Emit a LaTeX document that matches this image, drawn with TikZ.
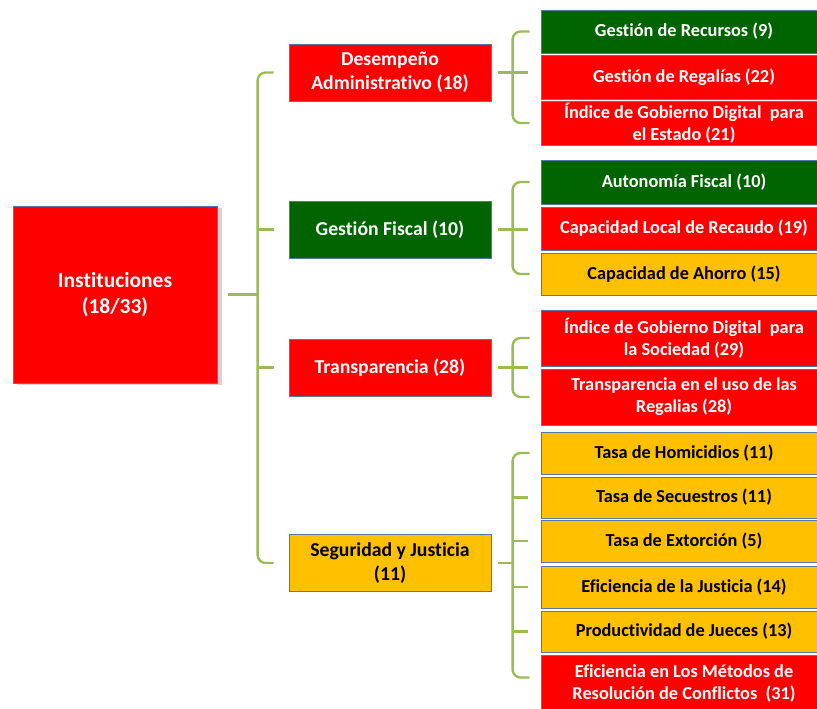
\documentclass[tikz,border=0pt]{standalone}
\usepackage{fontspec}
\setmainfont[Ligatures=NoCommon]{Carlito}
\usetikzlibrary{shadows}

\definecolor{boxred}{HTML}{FF0000}
\definecolor{boxgreen}{HTML}{006400}
\definecolor{boxyellow}{HTML}{FFC000}
\definecolor{boxedge}{HTML}{5577AA}
\definecolor{bracecol}{HTML}{9BBB59}

\begin{document}
\begin{tikzpicture}[x=1pt,y=-1pt]
		\tikzset{box/.style={shape = rectangle, draw = boxedge, line width = 0.8pt, align = center,
				font = \bfseries\fontsize{18.3}{22}\selectfont, inner sep = 2pt}}
		\tikzset{red box/.style={box, fill = boxred, text = white}}
		\tikzset{green box/.style={box, fill = boxgreen, text = white}}
		\tikzset{yellow box/.style={box, fill = boxyellow, text = black}}
		\tikzset{mid/.style={minimum width = 202pt, minimum height = 57pt,
				font = \bfseries\fontsize{19.7}{24}\selectfont}}
		\tikzset{leaf/.style={minimum width = 286pt}}
		\tikzset{bracket/.style={draw = bracecol, line width = 2.4pt, rounded corners = 8pt}}
		\useasboundingbox (0,0) rectangle (817,709);
		%root
		\node[red box, minimum width = 204pt, minimum height = 177pt,
			font = \bfseries\fontsize{21.5}{26}\selectfont,
			drop shadow = {shadow xshift = 5pt, shadow yshift = -2pt, opacity = 0.35}]
			(inst) at (115, 294.5) {Instituciones\\(18/33)};
		%middle level
		\node[red box, mid] (desemp) at (390, 72.5) {Desempeño\\Administrativo (18)};
		\node[green box, mid] (fiscal) at (390, 229.5) {Gestión Fiscal (10)};
		\node[red box, mid] (transp) at (390, 367.5) {Transparencia (28)};
		\node[yellow box, mid] (segur) at (390, 563) {Seguridad y Justicia\\(11)};
		%leaves
		\node[green box, leaf, minimum height = 43pt] (recur) at (684, 31.5) {Gestión de Recursos (9)};
		\node[red box, leaf, minimum height = 44pt] (regal) at (684, 77) {Gestión de Regalías (22)};
		\node[red box, leaf, minimum height = 44pt] (gdest) at (684, 123) {Índice de Gobierno Digital\ \ para\\el Estado (21)};
		\node[green box, leaf, minimum height = 44pt] (autfis) at (684, 182) {Autonomía Fiscal (10)};
		\node[red box, leaf, minimum height = 43pt] (caploc) at (684, 228.5) {Capacidad Local de Recaudo (19)};
		\node[yellow box, leaf, minimum height = 42pt] (capaho) at (684, 274) {Capacidad de Ahorro (15)};
		\node[red box, leaf, minimum height = 56pt] (gdsoc) at (684, 338) {Índice de Gobierno Digital\ \ para\\la Sociedad (29)};
		\node[red box, leaf, minimum height = 56pt] (trreg) at (684, 397) {Transparencia en el uso de las\\Regalias (28)};
		\node[yellow box, leaf, minimum height = 42pt] (homic) at (684, 453) {Tasa de Homicidios (11)};
		\node[yellow box, leaf, minimum height = 41pt] (secue) at (684, 497.5) {Tasa de Secuestros (11)};
		\node[yellow box, leaf, minimum height = 42pt] (extor) at (684, 541) {Tasa de Extorción (5)};
		\node[yellow box, leaf, minimum height = 42pt] (efjus) at (684, 587) {Eficiencia de la Justicia (14)};
		\node[yellow box, leaf, minimum height = 41pt] (prodj) at (684, 631.5) {Productividad de Jueces (13)};
		\node[red box, leaf, minimum height = 57pt] (efmet) at (684, 683.5) {Eficiencia en Los Métodos de\\Resolución de Conflictos\ \ (31)};
		%brackets
		\draw[bracket] ([xshift=11pt]inst.east) -- ([xshift=41pt]inst.east);
		\draw[bracket] ([xshift=-15pt]desemp.west) -| ([xshift=-31pt]segur.west) -- ([xshift=-15pt]segur.west);
		\draw[bracket] ([xshift=-31pt]fiscal.west) -- ([xshift=-15pt]fiscal.west);
		\draw[bracket] ([xshift=-31pt]transp.west) -- ([xshift=-15pt]transp.west);
		\draw[bracket] ([xshift=-11pt]recur.west) -| ([xshift=-28pt]gdest.west) -- ([xshift=-11pt]gdest.west);
		\draw[bracket] ([xshift=7pt]desemp.east) -- ([xshift=37pt]desemp.east);
		\draw[bracket] ([xshift=-11pt]autfis.west) -| ([xshift=-28pt]capaho.west) -- ([xshift=-11pt]capaho.west);
		\draw[bracket] ([xshift=7pt]fiscal.east) -- ([xshift=37pt]fiscal.east);
		\draw[bracket] ([xshift=-11pt]gdsoc.west) -| ([xshift=-28pt]trreg.west) -- ([xshift=-11pt]trreg.west);
		\draw[bracket] ([xshift=7pt]transp.east) -- ([xshift=37pt]transp.east);
		\draw[bracket] ([xshift=-11pt]homic.west) -| ([xshift=-28pt,yshift=6pt]efmet.west) -- ([xshift=-11pt,yshift=6pt]efmet.west);
		\draw[bracket] ([xshift=7pt]segur.east) -- ([xshift=22pt]segur.east);
		\foreach \leafnode in {secue, extor, efjus, prodj}
			\draw[bracket] ([xshift=-28pt]\leafnode.west) -- ([xshift=-13pt]\leafnode.west);
\end{tikzpicture}
\end{document}
